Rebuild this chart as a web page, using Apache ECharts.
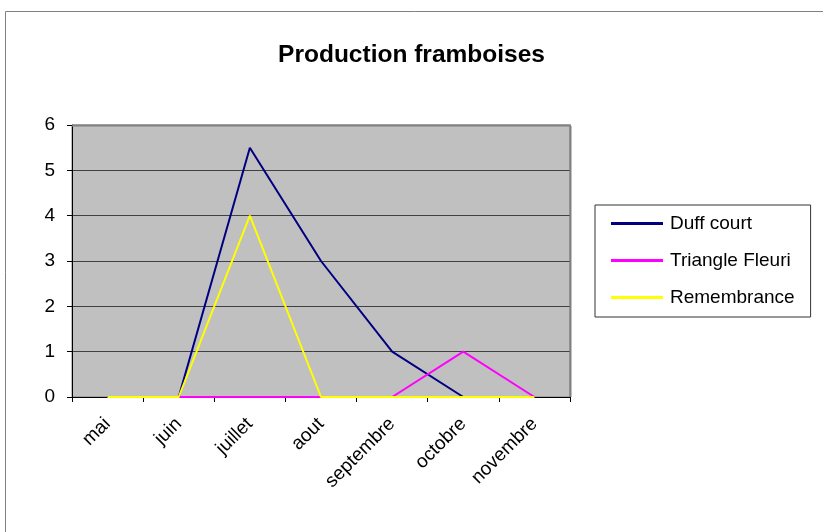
<!DOCTYPE html>
<html>
<head>
<meta charset="utf-8">
<script src="https://cdn.jsdelivr.net/npm/echarts@6/dist/echarts.min.js"></script>
<style>html,body{margin:0;padding:0;background:#fff}#c{width:823px;height:532px}</style>
</head>
<body>
<div id="c"></div>
<script>
const categories = ['mai', 'juin', 'juillet', 'aout', 'septembre', 'octobre', 'novembre'];
const duffCourt = [0, 0, 5.5, 3, 1, 0, 0];
const triangleFleuri = [0, 0, 0, 0, 0, 1, 0];
const remembrance = [0, 0, 4, 0, 0, 0, 0];
const yTicks = { min: 0, max: 6, interval: 1 };

const chart = echarts.init(document.getElementById('c'));
const font = 'Liberation Sans, Arial, sans-serif';
chart.setOption({
  animation: false,
  backgroundColor: '#fff',
  graphic: [
    { type: 'rect', shape: { x: 5.5, y: 11.5, width: 900, height: 900 }, style: { fill: 'none', stroke: '#808080', lineWidth: 1 }, z: -10 },
    { type: 'line', shape: { x1: 570.5, y1: 126, x2: 570.5, y2: 397 }, style: { stroke: '#808080', lineWidth: 2 }, z: 10 },
    { type: 'line', shape: { x1: 72, y1: 125.5, x2: 571, y2: 125.5 }, style: { stroke: '#808080', lineWidth: 2 }, z: 10 }
  ],
  title: {
    text: 'Production framboises',
    left: 'center',
    top: 38,
    textStyle: { fontFamily: font, fontSize: 24.5, fontWeight: 'bold', color: '#000' }
  },
  legend: {
    orient: 'vertical',
    left: 595,
    top: 205,
    padding: [9, 16, 10, 16],
    itemGap: 18,
    itemWidth: 52,
    itemHeight: 3,
    icon: 'rect',
    borderColor: '#333',
    borderWidth: 1,
    backgroundColor: '#fff',
    textStyle: { fontFamily: font, fontSize: 19, color: '#000', padding: [0, 0, 0, 2] },
    data: ['Duff court', 'Triangle Fleuri', 'Remembrance']
  },
  grid: {
    left: 72, right: 253, top: 125, bottom: 135,
    show: true, backgroundColor: '#C0C0C0', borderColor: '#808080', borderWidth: 1
  },
  xAxis: {
    type: 'category',
    data: categories,
    boundaryGap: true,
    axisLine: { lineStyle: { color: '#000', width: 1 } },
    axisTick: { show: true, length: 5, lineStyle: { color: '#000' } },
    axisLabel: { rotate: 45, margin: 24, fontFamily: font, fontSize: 19, color: '#000', interval: 0 }
  },
  yAxis: {
    type: 'value',
    min: yTicks.min, max: yTicks.max, interval: yTicks.interval,
    axisLine: { show: true, lineStyle: { color: '#000', width: 1 } },
    axisTick: { show: true, length: 5, lineStyle: { color: '#000' } },
    axisLabel: { margin: 17, fontFamily: font, fontSize: 19, color: '#000' },
    splitLine: { show: true, lineStyle: { color: '#404040', width: 1 } }
  },
  series: [
    { name: 'Duff court', type: 'line', data: duffCourt, symbol: 'none', color: '#000080', lineStyle: { width: 2, color: '#000080' } },
    { name: 'Triangle Fleuri', type: 'line', data: triangleFleuri, symbol: 'none', color: '#FF00FF', lineStyle: { width: 2, color: '#FF00FF' } },
    { name: 'Remembrance', type: 'line', data: remembrance, symbol: 'none', color: '#FFFF00', lineStyle: { width: 2, color: '#FFFF00' } }
  ]
});
</script>
</body>
</html>
